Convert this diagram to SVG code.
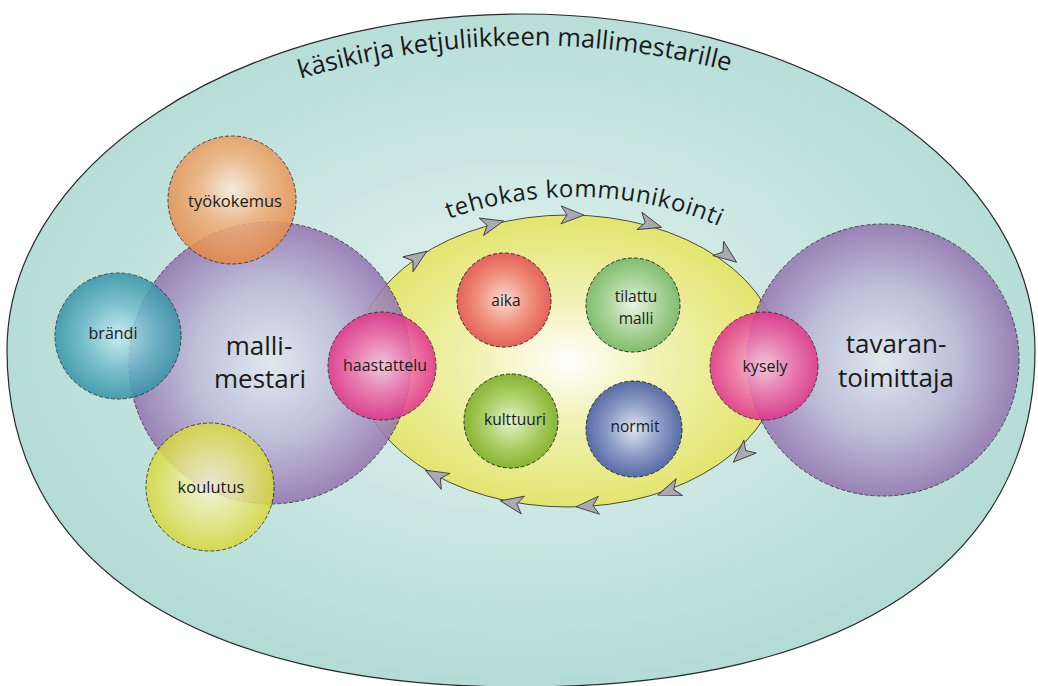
<svg xmlns="http://www.w3.org/2000/svg" width="1038" height="686" viewBox="0 0 1038 686">
<defs>
<style>
text{font-family:"Open Sans","Liberation Sans",sans-serif;fill:#1a1a1a;text-anchor:middle}
.node{stroke:#2e2e2e;stroke-width:1;stroke-dasharray:4 2}
.big{font-size:26px}
.small{font-size:15.5px}
.arrow{fill:#a9a9b2;stroke:#3c3c44;stroke-width:0.9;stroke-linejoin:round}
</style>
<radialGradient id="gOuter" cx="50%" cy="48%" r="55%"><stop offset="0" stop-color="#e6f3f1"/><stop offset="1" stop-color="#b1dbd4"/></radialGradient>
<radialGradient id="gYellow" cx="50%" cy="50%" r="52%"><stop offset="0" stop-color="#ffffff"/><stop offset="0.4" stop-color="#f1f2b4"/><stop offset="1" stop-color="#e2e46a"/></radialGradient>
<radialGradient id="gPurple" cx="50%" cy="50%" r="50%"><stop offset="0" stop-color="#e2eaf1"/><stop offset="0.55" stop-color="#bdb8d8"/><stop offset="1" stop-color="#9373b0"/></radialGradient>
<radialGradient id="gOrange" cx="50%" cy="42%" r="55%"><stop offset="0" stop-color="#fdeedc"/><stop offset="0.5" stop-color="#f1b07a"/><stop offset="1" stop-color="#e68c48"/></radialGradient>
<radialGradient id="gTeal" cx="50%" cy="50%" r="50%"><stop offset="0" stop-color="#cdeef3"/><stop offset="0.55" stop-color="#6cb8c8"/><stop offset="1" stop-color="#3593a8"/></radialGradient>
<radialGradient id="gLemon" cx="50%" cy="50%" r="50%"><stop offset="0" stop-color="#f8f8dc"/><stop offset="0.55" stop-color="#e8e884"/><stop offset="1" stop-color="#d7d83a"/></radialGradient>
<radialGradient id="gPink" cx="50%" cy="50%" r="50%"><stop offset="0" stop-color="#f8cfe2"/><stop offset="0.55" stop-color="#ee73ac"/><stop offset="1" stop-color="#e0358a"/></radialGradient>
<radialGradient id="gRed" cx="50%" cy="50%" r="50%"><stop offset="0" stop-color="#fbdcd2"/><stop offset="0.55" stop-color="#f0917e"/><stop offset="1" stop-color="#e4625a"/></radialGradient>
<radialGradient id="gMint" cx="50%" cy="50%" r="50%"><stop offset="0" stop-color="#eaf4e2"/><stop offset="0.55" stop-color="#acd49a"/><stop offset="1" stop-color="#82bd70"/></radialGradient>
<radialGradient id="gLime" cx="50%" cy="50%" r="50%"><stop offset="0" stop-color="#e6f3cc"/><stop offset="0.55" stop-color="#aed06a"/><stop offset="1" stop-color="#86b532"/></radialGradient>
<radialGradient id="gBlue" cx="50%" cy="50%" r="50%"><stop offset="0" stop-color="#dfe6f1"/><stop offset="0.55" stop-color="#8c9cc6"/><stop offset="1" stop-color="#586ca6"/></radialGradient>
<path id="dart" d="M 12 0 L -11 -9 L -5 0 L -11 9 Z"/>
<path id="arcTop" d="M 290 82 Q 515 13 740 74"/>
<path id="arcComm" d="M 400 242.6 A 260 175 0 0 1 760 249.1"/>
</defs>

<g id="handbook">
<path d="M 7 350 A 514 336 0 0 1 1035 350 C 1035 560 852 687 521 687 C 190 687 7 560 7 350 Z" fill="url(#gOuter)" stroke="#2a2a2a" stroke-width="1.2"/>
<text font-size="25.5"><textPath href="#arcTop" startOffset="50%">käsikirja ketjuliikkeen mallimestarille</textPath></text>
</g>

<g id="communication">
<ellipse cx="568" cy="361" rx="213" ry="146" fill="url(#gYellow)" stroke="#4a4a3c" stroke-width="1"/>
<text font-size="24" letter-spacing="0.6"><textPath href="#arcComm" startOffset="51%">tehokas kommunikointi</textPath></text>
</g>

<g id="connectors">
<use href="#dart" class="arrow" transform="translate(417,258) rotate(-34.6)"/>
<use href="#dart" class="arrow" transform="translate(492,224) rotate(-14.7)"/>
<use href="#dart" class="arrow" transform="translate(572,215) rotate(0.7)"/>
<use href="#dart" class="arrow" transform="translate(650,224) rotate(16)"/>
<use href="#dart" class="arrow" transform="translate(727,255) rotate(37)"/>
<use href="#dart" class="arrow" transform="translate(436,476) rotate(-151.3)"/>
<use href="#dart" class="arrow" transform="translate(512,503) rotate(-169.4)"/>
<use href="#dart" class="arrow" transform="translate(588,506) rotate(176.3)"/>
<use href="#dart" class="arrow" transform="translate(669,491) rotate(159.7)"/>
<use href="#dart" class="arrow" transform="translate(742,454) rotate(136.8)"/>
</g>

<g id="mallimestari">
<circle class="node" cx="270" cy="363" r="141" fill="url(#gPurple)" opacity="0.86"/>
<text class="big" x="259" y="355">malli-</text>
<text class="big" x="260" y="388">mestari</text>
</g>

<g id="tavarantoimittaja">
<circle class="node" cx="883" cy="360" r="136" fill="url(#gPurple)" opacity="0.86"/>
<text class="big" x="896" y="353">tavaran-</text>
<text class="big" x="896" y="387">toimittaja</text>
</g>

<g id="aika">
<circle class="node" cx="504" cy="300" r="47" fill="url(#gRed)"/>
<text class="small" x="506" y="306">aika</text>
</g>

<g id="tilattu-malli">
<circle class="node" cx="633" cy="305" r="47" fill="url(#gMint)"/>
<text class="small" x="636" y="302">tilattu</text>
<text class="small" x="636" y="324">malli</text>
</g>

<g id="kulttuuri">
<circle class="node" cx="511" cy="421" r="47" fill="url(#gLime)"/>
<text class="small" x="515" y="425">kulttuuri</text>
</g>

<g id="normit">
<circle class="node" cx="634" cy="429" r="48" fill="url(#gBlue)"/>
<text class="small" x="635" y="432">normit</text>
</g>

<g id="tyokokemus">
<circle class="node" cx="232" cy="200" r="64" fill="url(#gOrange)" opacity="0.85"/>
<text x="235" y="207" font-size="16.5">työkokemus</text>
</g>

<g id="brandi">
<circle class="node" cx="118" cy="336" r="63" fill="url(#gTeal)" opacity="0.85"/>
<text x="113" y="339" font-size="16">brändi</text>
</g>

<g id="koulutus">
<circle class="node" cx="210" cy="487" r="64" fill="url(#gLemon)" opacity="0.85"/>
<text x="211" y="493" font-size="16.5">koulutus</text>
</g>

<g id="haastattelu">
<circle class="node" cx="382" cy="366" r="54" fill="url(#gPink)" opacity="0.88"/>
<text x="385" y="371" font-size="16">haastattelu</text>
</g>

<g id="kysely">
<circle class="node" cx="764" cy="366" r="54" fill="url(#gPink)" opacity="0.88"/>
<text x="765" y="372" font-size="16">kysely</text>
</g>
</svg>
